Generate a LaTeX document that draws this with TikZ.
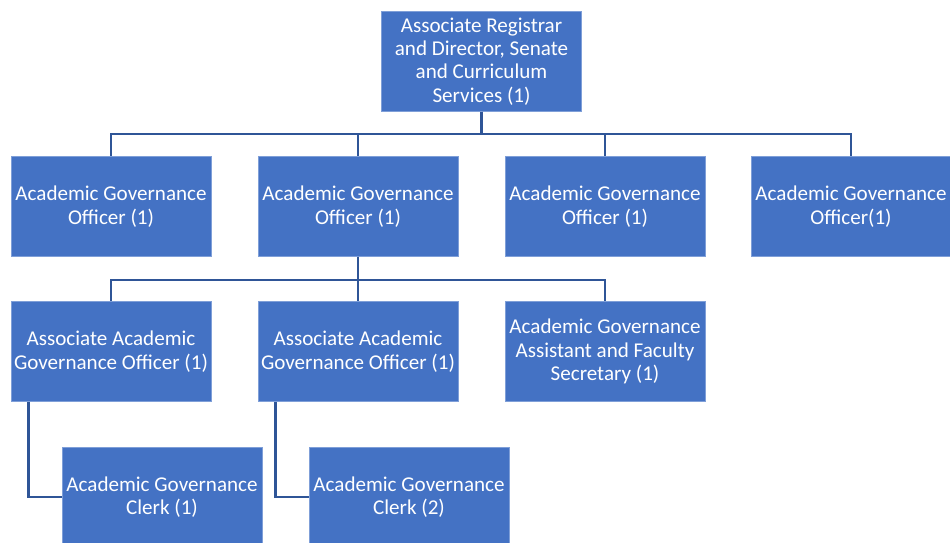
\documentclass[tikz,border=0pt]{standalone}
\usepackage{fontspec}
\setmainfont{Carlito}
\usepackage{xcolor}
\usetikzlibrary{positioning}
\definecolor{boxblue}{HTML}{4472C4}
\definecolor{boxedge}{HTML}{7F9FD8}
\definecolor{linkblue}{HTML}{2F5597}
\tikzset{
	post/.style={rectangle, fill=boxblue, draw=boxedge, line width=0.4pt, text=white,
		minimum width=4cm, minimum height=2cm, align=center, inner sep=1pt,
		font=\fontsize{12}{13.3}\selectfont},
	link/.style={linkblue, line width=1.6pt}
}
\begin{document}
\begin{tikzpicture}[x=0.02cm, y=-0.02cm]
	\clip (0,0) rectangle (950,542);
	\useasboundingbox (0,0) rectangle (950,542);
	%Head of unit
	\node[post] (head) at (481.5,61.5) {Associate Registrar\\and Director, Senate\\and Curriculum\\Services (1)};
	%Officers
	\node[post] (ago1) at (111,206.5) {Academic Governance\\Officer (1)};
	\node[post] (ago2) at (358,206.5) {Academic Governance\\Officer (1)};
	\node[post] (ago3) at (605,206.5) {Academic Governance\\Officer (1)};
	\node[post] (ago4) at (851,206.5) {Academic Governance\\Officer(1)};
	%Associate officers and assistant
	\node[post] (aago1) at (111,351.5) {Associate Academic\\Governance Officer (1)};
	\node[post] (aago2) at (358,351.5) {Associate Academic\\Governance Officer (1)};
	\node[post] (aga) at (605,351.5) {Academic Governance\\Assistant and Faculty\\Secretary (1)};
	%Clerks
	\node[post] (agc1) at (162,497) {Academic Governance\\Clerk (1)};
	\node[post] (agc2) at (409,497) {Academic Governance\\Clerk (2)};
	% Connectors
	\coordinate (bus1) at (481.5,134);
	\coordinate (bus2) at (358,280);
	\foreach \n in {ago1,ago2,ago3,ago4}
		\draw[link] (head.south) -- (bus1) -| (\n.north);
	\foreach \n in {aago1,aago2,aga}
		\draw[link] (ago2.south) -- (bus2) -| (\n.north);
	\draw[link] ([xshift=0.36cm]aago1.south west) |- (agc1.west);
	\draw[link] ([xshift=0.36cm]aago2.south west) |- (agc2.west);
\end{tikzpicture}
\end{document}
